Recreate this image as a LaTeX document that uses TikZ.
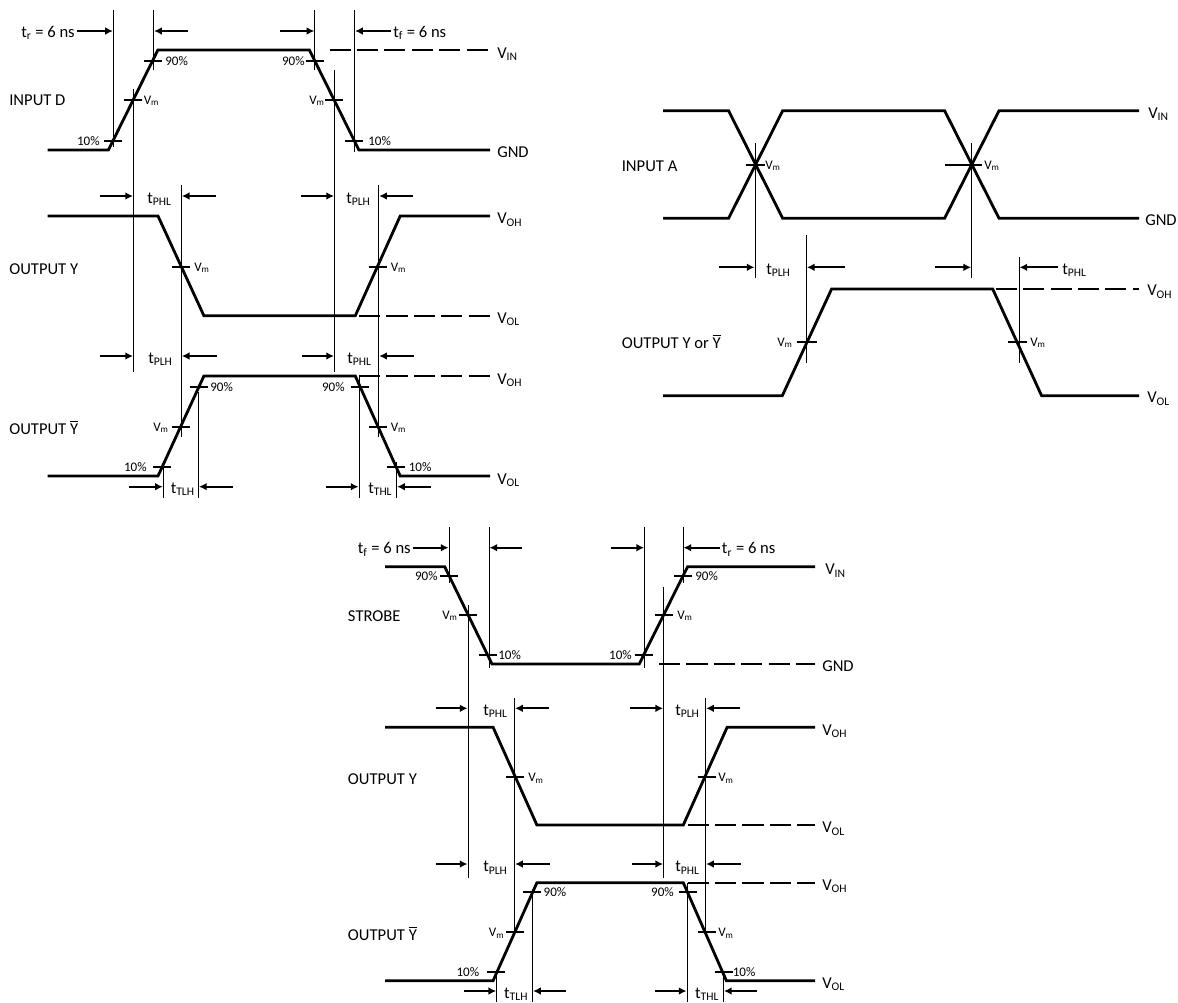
\documentclass[tikz,border=0pt]{standalone}
\usepackage{fontspec}
\setmainfont{Carlito}
\usepackage{tikz}
\usetikzlibrary{arrows.meta}

\newcommand{\Ybar}{$\overline{\mbox{Y}}$}

\begin{document}
\begin{tikzpicture}[x=0.025cm, y=-0.025cm, >={Latex[length=5.5pt,width=5.5pt]},
        every node/.style={inner sep=0pt, font=\fontsize{11.8}{14}\selectfont},
        wave/.style={line width=2pt},
        guide/.style={line width=0.6pt},
        lvl/.style={line width=1.25pt, dash pattern=on 15pt off 4.5pt},
        tk/.style={line width=1.2pt},
        dim/.style={->, line width=1.3pt},
        sm/.style={font=\fontsize{9.3}{10}\selectfont},
        lb/.style={anchor=base west},
        rb/.style={anchor=base east}]

        \useasboundingbox (0,0) rectangle (1178,1002);

        % ---------- INPUT D / OUTPUT Y / OUTPUT Ybar ----------
        \draw[wave] (47.7,150) -- (108.4,150) -- (157.9,50) -- (309.4,50) -- (358.9,150) -- (490,150);
        \draw[wave] (47.7,216) -- (158,216) -- (203.9,315.7) -- (355.3,315.7) -- (400.2,216) -- (490,216);
        \draw[wave] (47.7,476) -- (158,476) -- (203.9,376) -- (355.3,376) -- (400.2,476) -- (490,476);
        \draw[lvl] (329.5,50) -- (490,50)
          (359,316) -- (490,316)
          (359,376) -- (490,376);

        \draw[guide] (113.4,10) -- (113.4,147)
          (153.6,10) -- (153.6,70)
          (314.8,10) -- (314.8,70)
          (354.6,10) -- (354.6,152)
          (133.5,89) -- (133.5,372)
          (334.5,70) -- (334.5,372)
          (181.3,185) -- (181.3,437)
          (378.7,185) -- (378.7,437)
          (198.5,392) -- (198.5,498)
          (163.3,462) -- (163.3,498)
          (359,376) -- (359,498)
          (396.6,462) -- (396.6,498);

        \draw[tk] (152.5,61) +(-9,0) -- +(9,0)
          (314.8,61) +(-9,0) -- +(9,0)
          (133.2,100) +(-9,0) -- +(9,0)
          (334.2,100) +(-9,0) -- +(9,0)
          (113,140.7) +(-9,0) -- +(9,0)
          (354.3,140.7) +(-9,0) -- +(9,0)
          (181.3,266.7) +(-9,0) -- +(9,0)
          (377.8,266.7) +(-9,0) -- +(9,0)
          (199,386.7) +(-9,0) -- +(9,0)
          (360.1,386.7) +(-9,0) -- +(9,0)
          (180.6,426.7) +(-9,0) -- +(9,0)
          (378.1,426.7) +(-9,0) -- +(9,0)
          (162.3,466.7) +(-9,0) -- +(9,0)
          (396,466.7) +(-9,0) -- +(9,0);

        \draw[dim] (77,31) -- (112.9,31);
        \draw[dim] (188,31) -- (154.1,31);
        \draw[dim] (280,31) -- (314.3,31);
        \draw[dim] (391,31) -- (355.1,31);
        \draw[dim] (99.8,196) -- (133,196);
        \draw[dim] (216,196) -- (181.8,196);
        \draw[dim] (300.8,196) -- (334,196);
        \draw[dim] (412.8,196) -- (379.2,196);
        \draw[dim] (99.8,356) -- (133,356);
        \draw[dim] (217,356) -- (181.8,356);
        \draw[dim] (301.5,356) -- (334,356);
        \draw[dim] (413.5,356) -- (379.2,356);
        \draw[dim] (128.5,486.7) -- (162.8,486.7);
        \draw[dim] (233.3,486.7) -- (199,486.7);
        \draw[dim] (326,486.7) -- (358.5,486.7);
        \draw[dim] (430.7,486.7) -- (397.1,486.7);

        \node[rb] (trD) at (75,37) {t\textsubscript{r} = 6 ns};
        \node[lb] (tfD) at (393,37) {t\textsubscript{f} = 6 ns};
        \node[lb] (inD) at (9,105.5) {INPUT D};
        \node[lb] (vinD) at (497,58.3) {V\textsubscript{IN}};
        \node[lb] (gndD) at (497,157) {GND};
        \node[sm, lb] (p90a) at (165,65.3) {90\%};
        \node[sm, rb] (p90b) at (305,65.3) {90\%};
        \node[sm, lb] (vma) at (143.5,104.3) {V\textsubscript{m}};
        \node[sm, rb] (vmb) at (325,104.3) {V\textsubscript{m}};
        \node[sm, rb] (p10a) at (100,145) {10\%};
        \node[sm, lb] (p10b) at (368,145) {10\%};

        \node[lb] (outY) at (9,274) {OUTPUT Y};
        \node[lb] (tphlY) at (147,203) {t\textsubscript{PHL}};
        \node[lb] (tplhY) at (346,203) {t\textsubscript{PLH}};
        \node[lb] (vohY) at (497,223.5) {V\textsubscript{OH}};
        \node[lb] (volY) at (497,323) {V\textsubscript{OL}};
        \node[sm, lb] (vmc) at (194,271) {V\textsubscript{m}};
        \node[sm, lb] (vmd) at (390.5,271) {V\textsubscript{m}};

        \node[lb] (outYb) at (9,434) {OUTPUT \Ybar};
        \node[lb] (tplhYb) at (148,363.3) {t\textsubscript{PLH}};
        \node[lb] (tphlYb) at (347,363.3) {t\textsubscript{PHL}};
        \node[lb] (ttlhYb) at (170.5,493) {t\textsubscript{TLH}};
        \node[lb] (tthlYb) at (368,493) {t\textsubscript{THL}};
        \node[lb] (vohYb) at (497,384) {V\textsubscript{OH}};
        \node[lb] (volYb) at (497,484) {V\textsubscript{OL}};
        \node[sm, lb] (p90c) at (210,391) {90\%};
        \node[sm, rb] (p90d) at (345,391) {90\%};
        \node[sm, rb] (vme) at (169,431) {V\textsubscript{m}};
        \node[sm, lb] (vmf) at (390.5,431) {V\textsubscript{m}};
        \node[sm, rb] (p10c) at (147,471) {10\%};
        \node[sm, lb] (p10d) at (408.5,471) {10\%};

        % ---------- INPUT A / OUTPUT Y or Ybar ----------
        \draw[wave] (663,110.7) -- (728.6,110.7) -- (782.7,218.3) -- (944.6,218.3) -- (999,110.7) -- (1139,110.7);
        \draw[wave] (663,218.3) -- (728.6,218.3) -- (782.7,110.7) -- (944.6,110.7) -- (999,218.3) -- (1139,218.3);
        \draw[wave] (663,395.7) -- (782.3,395.7) -- (831.6,289) -- (992.7,289) -- (1041.6,395.7) -- (1139,395.7);
        \draw[lvl] (995.7,289) -- (1139,289);

        \draw[guide] (755,143.3) -- (755,278)
          (971.6,143.3) -- (971.6,278)
          (806.4,235) -- (806.4,363.3)
          (1019,256.7) -- (1019,363.3);

        \draw[tk] (745.6,165) -- (764.9,165)
          (944.6,165) -- (981.6,165)
          (797,341.7) -- (816.7,341.7)
          (1007.6,341.7) -- (1026.8,341.7);

        \draw[dim] (718.6,267.3) -- (754.5,267.3);
        \draw[dim] (844.5,267.3) -- (806.9,267.3);
        \draw[dim] (935.3,267.3) -- (971.1,267.3);
        \draw[dim] (1057.6,267.3) -- (1019.5,267.3);

        \node[lb] (inA) at (621.5,171.7) {INPUT A};
        \node[lb] (outA) at (621.5,348) {OUTPUT Y or \Ybar};
        \node[lb] (vinA) at (1148,118.3) {V\textsubscript{IN}};
        \node[lb] (gndA) at (1145,225) {GND};
        \node[lb] (vohA) at (1147,295.5) {V\textsubscript{OH}};
        \node[lb] (volA) at (1147,402.5) {V\textsubscript{OL}};
        \node[lb] (tplhA) at (766,274) {t\textsubscript{PLH}};
        \node[lb] (tphlA) at (1062,274) {t\textsubscript{PHL}};
        \node[sm, lb] (vmg) at (765,169.3) {V\textsubscript{m}};
        \node[sm, lb] (vmh) at (984,169.3) {V\textsubscript{m}};
        \node[sm, rb] (vmi) at (793,346) {V\textsubscript{m}};
        \node[sm, lb] (vmj) at (1030,346) {V\textsubscript{m}};

        % ---------- STROBE / OUTPUT Y / OUTPUT Ybar ----------
        \draw[wave] (385,566.7) -- (444.7,566.7) -- (492,664) -- (639.2,664) -- (687.6,566.7) -- (815,566.7);
        \draw[wave] (385,727.3) -- (493.1,727.3) -- (536.9,825) -- (683.3,825) -- (727.1,727.3) -- (815,727.3);
        \draw[wave] (385,980.7) -- (493.1,980.7) -- (536.9,882.7) -- (683.3,882.7) -- (726.4,980.7) -- (815,980.7);
        \draw[lvl] (659,664) -- (815,664)
          (687.6,825) -- (815,825)
          (687.6,883) -- (815,883);

        \draw[guide] (449,526.7) -- (449,583)
          (489,526.7) -- (489,668)
          (644.6,526.7) -- (644.6,668)
          (683,526.7) -- (683,583)
          (468,605) -- (468,878)
          (663.6,586.7) -- (663.6,878)
          (514.6,698.3) -- (514.6,935)
          (705.6,698.3) -- (705.6,935)
          (496.7,973) -- (496.7,1002)
          (532.6,890) -- (532.6,1002)
          (687,882.7) -- (687,1002)
          (723.5,975) -- (723.5,1002);

        \draw[tk] (449.2,576) +(-9,0) -- +(9,0)
          (683,576) +(-9,0) -- +(9,0)
          (468.2,615) +(-9,0) -- +(9,0)
          (663.6,615) +(-9,0) -- +(9,0)
          (487.6,655) +(-9,0) -- +(9,0)
          (643.7,655) +(-9,0) -- +(9,0)
          (515.2,777.3) +(-9,0) -- +(9,0)
          (706.6,777.3) +(-9,0) -- +(9,0)
          (532.3,892.3) +(-9,0) -- +(9,0)
          (687.6,892.3) +(-9,0) -- +(9,0)
          (514.7,932.3) +(-9,0) -- +(9,0)
          (706.6,932.3) +(-9,0) -- +(9,0)
          (496.4,971.7) +(-9,0) -- +(9,0)
          (723.5,971.7) +(-9,0) -- +(9,0);

        \draw[dim] (413,547.7) -- (448.5,547.7);
        \draw[dim] (521.8,547.7) -- (489.5,547.7);
        \draw[dim] (610.5,547.7) -- (644.1,547.7);
        \draw[dim] (720,547.7) -- (683.5,547.7);
        \draw[dim] (435.7,708.3) -- (467.5,708.3);
        \draw[dim] (548.7,708.3) -- (515.1,708.3);
        \draw[dim] (630.2,708.3) -- (663.1,708.3);
        \draw[dim] (739.7,708.3) -- (706.1,708.3);
        \draw[dim] (436.4,864) -- (467.5,864);
        \draw[dim] (549.5,864) -- (515.1,864);
        \draw[dim] (632,864) -- (663.1,864);
        \draw[dim] (740.8,864) -- (706.1,864);
        \draw[dim] (464.4,991) -- (496.2,991);
        \draw[dim] (565.6,991) -- (533.1,991);
        \draw[dim] (655.3,991) -- (686.5,991);
        \draw[dim] (756.6,991) -- (724,991);

        \node[rb] (tfS) at (411,553.5) {t\textsubscript{f} = 6 ns};
        \node[lb] (trS) at (721.7,553.5) {t\textsubscript{r} = 6 ns};
        \node[lb] (strb) at (347.7,621.7) {STROBE};
        \node[lb] (vinS) at (825,574.5) {V\textsubscript{IN}};
        \node[lb] (gndS) at (822,671) {GND};
        \node[sm, rb] (p90e) at (438,580.3) {90\%};
        \node[sm, lb] (p90f) at (695,580.3) {90\%};
        \node[sm, rb] (vmk) at (458,619.3) {V\textsubscript{m}};
        \node[sm, lb] (vml) at (677,619.3) {V\textsubscript{m}};
        \node[sm, lb] (p10e) at (498,659.3) {10\%};
        \node[sm, rb] (p10f) at (632,659.3) {10\%};

        \node[lb] (outY2) at (347.7,784) {OUTPUT Y};
        \node[lb] (tphlY2) at (483,715) {t\textsubscript{PHL}};
        \node[lb] (tplhY2) at (675,715) {t\textsubscript{PLH}};
        \node[lb] (vohY2) at (822,735) {V\textsubscript{OH}};
        \node[lb] (volY2) at (822,832.5) {V\textsubscript{OL}};
        \node[sm, lb] (vmm) at (528,781.6) {V\textsubscript{m}};
        \node[sm, lb] (vmn) at (718,781.6) {V\textsubscript{m}};

        \node[lb] (outYb2) at (347.7,940) {OUTPUT \Ybar};
        \node[lb] (tplhYb2) at (483,871.5) {t\textsubscript{PLH}};
        \node[lb] (tphlYb2) at (675,871.5) {t\textsubscript{PHL}};
        \node[lb] (ttlhYb2) at (503.9,998) {t\textsubscript{TLH}};
        \node[lb] (tthlYb2) at (694.8,998) {t\textsubscript{THL}};
        \node[lb] (vohYb2) at (822,890) {V\textsubscript{OH}};
        \node[lb] (volYb2) at (822,988) {V\textsubscript{OL}};
        \node[sm, lb] (p90g) at (543.4,896.6) {90\%};
        \node[sm, rb] (p90h) at (674,896.6) {90\%};
        \node[sm, rb] (vmo) at (504.6,936.6) {V\textsubscript{m}};
        \node[sm, lb] (vmp) at (718,936.6) {V\textsubscript{m}};
        \node[sm, rb] (p10g) at (479.5,976) {10\%};
        \node[sm, lb] (p10h) at (732.5,976) {10\%};

      \end{tikzpicture}
\end{document}
